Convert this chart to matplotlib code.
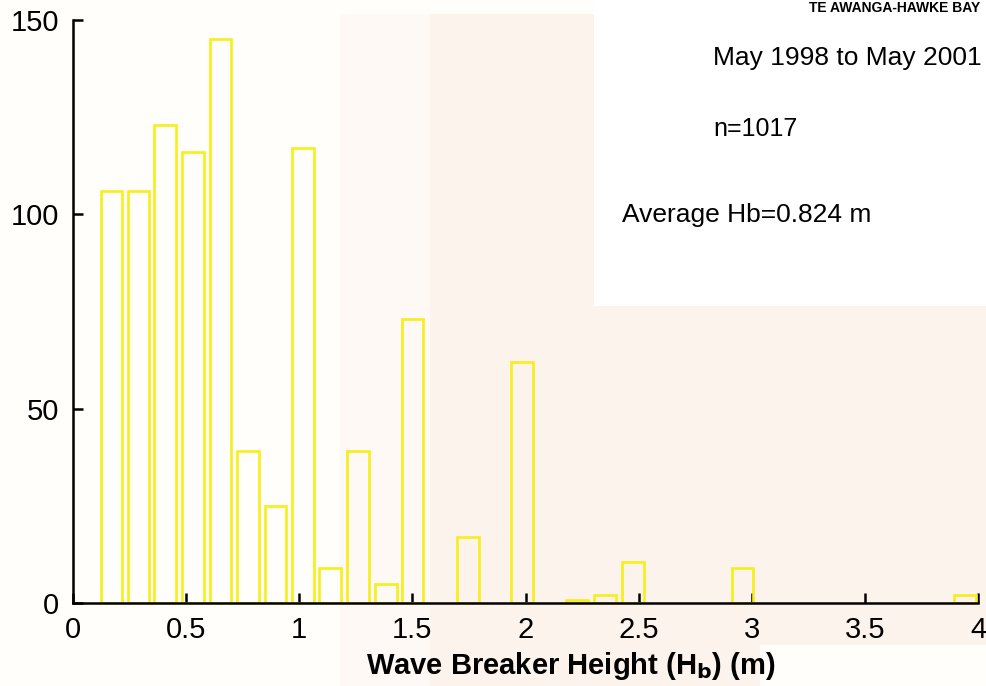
import matplotlib
matplotlib.use('Agg')
import matplotlib.pyplot as plt
from matplotlib.patches import Rectangle

# Bin centres (m) and counts
bin_centres = [0.170, 0.290, 0.408, 0.531, 0.652, 0.772, 0.895, 1.016, 1.137,
               1.259, 1.383, 1.500, 1.745, 1.986, 2.228, 2.351, 2.474, 2.959, 3.943]
counts = [106, 106, 123, 116, 145, 39, 25, 117, 9,
          39, 5, 73, 17, 62, 0.7, 2, 10.5, 9, 2]

x_ticks = [0, 0.5, 1, 1.5, 2, 2.5, 3, 3.5, 4]
x_tick_labels = ['0', '0.5', '1', '1.5', '2', '2.5', '3', '3.5', '4']
y_ticks = [0, 50, 100, 150]

site_name = 'TE AWANGA-HAWKE BAY'
period_text = 'May 1998 to May 2001'
n_text = 'n=1017'
avg_text = 'Average Hb=0.824 m'

plt.rcParams['font.family'] = ['Liberation Sans', 'DejaVu Sans']

W, H = 987, 686
fig = plt.figure(figsize=(W / 100, H / 100), dpi=100)
fig.patch.set_facecolor('white')

# scanned page tint: pinkish paper with a white pasted-over box
def px_rect(x0, y0, x1, y1, color):
    fig.patches.append(Rectangle((x0 / W, 1 - y1 / H), (x1 - x0) / W, (y1 - y0) / H,
                                 transform=fig.transFigure, facecolor=color,
                                 edgecolor='none', zorder=-5))

px_rect(0, 0, W, H, '#fffefa')
px_rect(430, 14, W, 645, '#fdf3ed')
px_rect(430, 645, 760, H, '#fdf3ed')
px_rect(340, 14, 430, H, '#fef9f4')
px_rect(594, 0, W, 306, 'white')

ax = fig.add_axes([73 / W, 1 - 603 / H, (978 - 73) / W, (603 - 20) / H])
ax.set_facecolor('none')

ax.bar(bin_centres, counts, width=0.096, facecolor='none', edgecolor='#f6ef1a',
       linewidth=1.9, zorder=2)

ax.set_xlim(0, 4)
ax.set_ylim(0, 150)
ax.set_xticks(x_ticks)
ax.set_xticklabels(x_tick_labels)
ax.set_yticks(y_ticks)

for side in ['top', 'right']:
    ax.spines[side].set_visible(False)
for side in ['left', 'bottom']:
    ax.spines[side].set_linewidth(1.8)
    ax.spines[side].set_color('black')
    ax.spines[side].set_zorder(3)

ax.tick_params(direction='in', length=7, width=1.8, labelsize=21, pad=9, colors='black')
ax.tick_params(axis='y', pad=10)

# x label, slightly right of axis centre as in the original
fig.text(571 / W, 1 - 666 / H, r'Wave Breaker Height (H$_\mathbf{b}$) (m)',
         fontsize=21, fontweight='bold', ha='center', va='center')

# annotations, upper right (site name is mostly cropped off in the scan)
fig.text(980 / W, 1 - 1 / H, site_name, fontsize=10, fontweight='bold',
         ha='right', va='top')
fig.text(713 / W, 1 - 58 / H, period_text, fontsize=19, ha='left', va='center')
fig.text(713 / W, 1 - 129 / H, n_text, fontsize=18, ha='left', va='center')
fig.text(622 / W, 1 - 215 / H, avg_text, fontsize=19, ha='left', va='center')

plt.savefig('out.png', dpi=100)
